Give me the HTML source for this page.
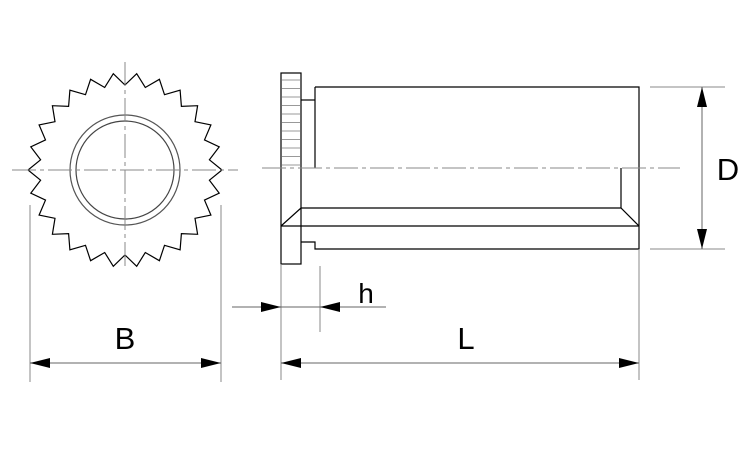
<!DOCTYPE html>
<html><head><style>body{margin:0;background:#fff}svg{display:block}</style></head>
<body>
<svg id="s" width="750" height="450" viewBox="0 0 750 450" xmlns="http://www.w3.org/2000/svg" font-family="Liberation Sans, sans-serif">
<g stroke="#000" stroke-width="1.2" fill="none">
<polygon id="gear" points=""/>
<circle cx="125" cy="170" r="55" stroke="#555"/>
<circle cx="125" cy="170" r="49" stroke="#444"/>
<rect x="281" y="73" width="20" height="191"/>
<polyline points="301,100 315,100"/>
<polyline points="315,87 639,87 639,249 315,249 315,242 301,242"/>
<line x1="315" y1="87" x2="315" y2="168"/>
<polyline points="281,226 301,208 621,208 639,226"/>
<line x1="281" y1="226" x2="639" y2="226"/>
<line x1="621" y1="168" x2="621" y2="208"/>
</g>
<g id="hatch" stroke="#999" stroke-width="1"></g>
<g stroke="#888" stroke-width="1" fill="none">
<line x1="125" y1="62" x2="125" y2="268" stroke-dasharray="24,4,4,4"/>
<line x1="12" y1="170" x2="238" y2="170" stroke-dasharray="24,4,4,4"/>
<line x1="262" y1="168" x2="680" y2="168" stroke-dasharray="24,4,4,4"/>
<line x1="30" y1="205" x2="30" y2="382"/>
<line x1="221" y1="205" x2="221" y2="382"/>
<line x1="281" y1="264" x2="281" y2="380"/>
<line x1="320" y1="266" x2="320" y2="332"/>
<line x1="639" y1="249" x2="639" y2="380"/>
<line x1="650" y1="87" x2="725" y2="87"/>
<line x1="650" y1="249" x2="725" y2="249"/>
</g>
<g stroke="#666" stroke-width="1">
<line x1="30" y1="363" x2="221" y2="363"/>
<line x1="281" y1="363" x2="639" y2="363"/>
<line x1="232" y1="307" x2="386" y2="307"/>
<line x1="702" y1="87" x2="702" y2="249"/>
</g>
<g fill="#000">
<polygon points="30,363 50,358 50,368"/>
<polygon points="221,363 201,358 201,368"/>
<polygon points="281,363 301,358 301,368"/>
<polygon points="639,363 619,358 619,368"/>
<polygon points="281,307 261,302 261,312"/>
<polygon points="320,307 340,302 340,312"/>
<polygon points="702,87 697,107 707,107"/>
<polygon points="702,249 697,229 707,229"/>
</g>
<g font-size="31" fill="#000" text-anchor="middle">
<text x="125" y="349">B</text>
<text x="466" y="349">L</text>
<text x="728" y="180">D</text>
<text x="366" y="303" font-size="28">h</text>
</g>
</svg>
<script>
var p=[],n=26,cx=125,cy=170;
for(var i=0;i<n;i++){
 var a=-Math.PI/2+i*2*Math.PI/n;
 var b=a+Math.PI/n;
 p.push((cx+85*Math.cos(a)).toFixed(1)+","+(cy+85*Math.sin(a)).toFixed(1));
 p.push((cx+97*Math.cos(b)).toFixed(1)+","+(cy+97*Math.sin(b)).toFixed(1));
}
document.getElementById("gear").setAttribute("points",p.join(" "));
var h="";for(var y=80;y<168;y+=8.5){h+='<line x1="282" y1="'+y+'" x2="300" y2="'+y+'"/>';}
document.getElementById("hatch").innerHTML=h;
</script>
</body></html>
